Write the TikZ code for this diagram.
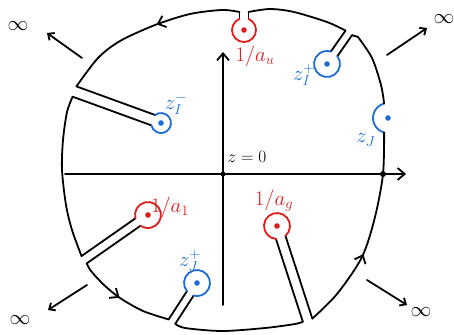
\documentclass[tikz,border=0pt]{standalone}
\usetikzlibrary{calc,arrows.meta,decorations.markings}
\definecolor{pred}{RGB}{222,28,28}
\definecolor{pblue}{RGB}{28,108,212}
\tikzset{
  pen/.style={line width=1.8pt, line cap=round, line join=round},
  cont/.style={pen, black},
  tip/.style={-{Straight Barb[length=7pt,width=12pt]}},
  inftip/.style={-{Straight Barb[length=5pt,width=9pt]}},
  midarrow/.style={postaction={decorate,decoration={markings,mark=at position #1 with {\arrow{Straight Barb[length=7pt,width=12pt]}}}}},
  redlab/.style={text=pred, font=\huge, inner sep=0pt},
  bluelab/.style={text=pblue, font=\huge, inner sep=0pt},
  inflab/.style={font=\huge, inner sep=0pt},
}
\newcommand{\keyhole}[7]{%
  \coordinate (#1c) at (#2);
  \coordinate (#1ai) at ($(#1c)+({#3}:{sqrt(#4*#4-#5*#5)})+({#3+90}:{#5})$);
  \coordinate (#1ao) at ($(#1c)+({#3}:{#6})+({#3+90}:{#5})$);
  \coordinate (#1bi) at ($(#1c)+({#3}:{sqrt(#4*#4-#5*#5)})+({#3-90}:{#5})$);
  \coordinate (#1bo) at ($(#1c)+({#3}:{#6})+({#3-90}:{#5})$);
  \draw[cont] (#1ai) -- (#1ao);
  \draw[cont] (#1bi) -- (#1bo);
  \draw[pen,#7] (#1ai) arc[start angle={#3+asin(#5/#4)}, end angle={#3+360-asin(#5/#4)}, radius=#4];
  \fill[#7] (#1c) circle[radius=2.8];
}
\begin{document}
\begin{tikzpicture}[x=1pt,y=-1pt]
\useasboundingbox (0,0) rectangle (454,334);
% axes
\coordinate (O) at (223,174);
\coordinate (xs) at (65,174);
\coordinate (xe) at (406,174);
\coordinate (ys) at (223,305);
\coordinate (ye) at (223,52);
\coordinate (Px) at (383,174);
\draw[pen,tip] (xs) -- (xe);
\draw[pen,tip] (ys) -- (ye);
\fill (O) circle[radius=2.6];
\fill (Px) circle[radius=3];
\node[font=\LARGE, inner sep=0pt] (zlab) at (247,157) {$z=0$};
% keyholes
\keyhole{T}{244,30}{-90}{12}{4.5}{18}{pred}
\keyhole{TR}{327,64}{-55}{13}{4}{38}{pblue}
\keyhole{BR}{277,226}{72}{13}{5}{99}{pred}
\keyhole{B}{197,283}{123}{13}{4}{46}{pblue}
\keyhole{BL}{148,215}{145}{13}{4.5}{78}{pred}
\keyhole{L}{161,123}{200}{10}{5.5}{92}{pblue}
% right indentation
\coordinate (Rc) at (388,118);
\coordinate (RT) at ($(Rc)+(255:15)$);
\coordinate (RB) at ($(Rc)+(105:15)$);
\draw[pen,pblue] (RB) arc[start angle=105,end angle=255,radius=15];
\fill[pblue] (Rc) circle[radius=2.8];
% outer contour
\draw[cont] plot[smooth] coordinates {(Tao) (270,9) (294,12) (327,22) (TRbo)};
\draw[cont] (TRao) -- plot[smooth] coordinates {(358,37) (372,58) (381,85) (RT)};
\draw[cont, midarrow=0.4] plot[smooth] coordinates {(BRbo) (337,294) (362,257) (375,217) (Px) (RB)};
\draw[cont] plot[smooth] coordinates {(BRao) (295,324) (265,328) (222,331) (185,328) (Bbo)};
\draw[cont, midarrow=0.47] plot[smooth] coordinates {(BLbo) (91,271) (104,285) (120,298) (143,311) (Bao)};
\draw[cont] plot[smooth] coordinates {(Lbo) (67,112) (63,140) (62,170) (66,205) (72,230) (BLao)};
\draw[cont, midarrow=0.45] plot[smooth] coordinates {(Tbo) (222,10) (190,14) (155,25) (120,41) (98,58) (Lao)};
% labels
\node[redlab] (la) at (255,56) {$1/a_u$};
\node[redlab] (lb) at (170,207) {$1/a_1$};
\node[redlab] (lc) at (274,201) {$1/a_g$};
\node[bluelab] (ld) at (304,75) {$z_I^+$};
\node[bluelab] (le) at (366,140) {$z_J$};
\node[bluelab] (lf) at (176,104) {$z_I^-$};
\node[bluelab] (lg) at (190,261) {$z_J^+$};
% infinity arrows
\node[inflab] (i1) at (18,26) {$\infty$};
\node[inflab] (i2) at (444,19) {$\infty$};
\node[inflab] (i3) at (20,320) {$\infty$};
\node[inflab] (i4) at (421,312) {$\infty$};
\coordinate (a1s) at (82,58);  \coordinate (a1e) at (47,33);
\coordinate (a2s) at (387,55); \coordinate (a2e) at (427,28);
\coordinate (a3s) at (87,285); \coordinate (a3e) at (48,310);
\coordinate (a4s) at (367,280);\coordinate (a4e) at (407,305);
\draw[pen,inftip] (a1s) -- (a1e);
\draw[pen,inftip] (a2s) -- (a2e);
\draw[pen,inftip] (a3s) -- (a3e);
\draw[pen,inftip] (a4s) -- (a4e);
\end{tikzpicture}
\end{document}
